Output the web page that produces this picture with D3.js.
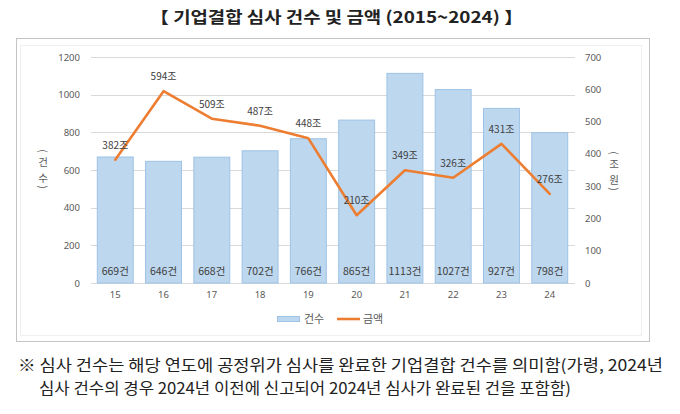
<!DOCTYPE html>
<html><head><meta charset="utf-8">
<script src="https://cdn.jsdelivr.net/npm/d3@7"></script>
<style>
html,body{margin:0;padding:0;background:#fff;}
svg{display:block;font-family:"Noto Sans CJK KR","Noto Sans",sans-serif;}
</style></head>
<body>
<svg id="c" width="680" height="414"></svg>
<script>
const years = ["15","16","17","18","19","20","21","22","23","24"];
const counts = [669,646,668,702,766,865,1113,1027,927,798];
const amounts = [382,594,509,487,448,210,349,326,431,276];
const leftTicks = [0,200,400,600,800,1000,1200];
const rightTicks = [0,100,200,300,400,500,600,700];
const title = "【 기업결합 심사 건수 및 금액 (2015~2024) 】";
const leftTitle = ["(","건","수",")"];
const rightTitle = ["(","조","원",")"];
const note1 = "※ 심사 건수는 해당 연도에 공정위가 심사를 완료한 기업결합 건수를 의미함(가령, 2024년";
const note2 = "심사 건수의 경우 2024년 이전에 신고되어 2024년 심사가 완료된 건을 포함함)";

const svg = d3.select("#c");
const m = {l:91, r:574, t:57, b:283};

// title
svg.append("text").attr("x",336.5).attr("y",23).attr("text-anchor","middle")
  .attr("font-size",16).attr("font-weight","bold").attr("fill","#222")
  .attr("textLength",373).attr("lengthAdjust","spacingAndGlyphs").text(title);

// dotted frame
svg.append("rect").attr("x",16.5).attr("y",38.5).attr("width",633).attr("height",303)
  .attr("fill","none").attr("stroke","#888").attr("stroke-width",1).attr("stroke-dasharray","1,1");
// faint inner chart border
svg.append("rect").attr("x",20.5).attr("y",45.5).attr("width",621).attr("height",290)
  .attr("fill","none").attr("stroke","#efefef").attr("stroke-width",1);

const x = d3.scaleBand().domain(years).range([m.l,m.r]).paddingInner(0.235).paddingOuter(0.12);
const yL = d3.scaleLinear().domain([0,1200]).range([m.b,m.t]);
const yR = d3.scaleLinear().domain([0,700]).range([m.b,m.t]);

// grid
svg.append("g").selectAll("line").data(leftTicks).join("line")
  .attr("x1",m.l).attr("x2",m.r+1).attr("y1",d=>Math.round(yL(d))+0.5).attr("y2",d=>Math.round(yL(d))+0.5)
  .attr("stroke","#d9d9d9").attr("stroke-width",1);

// left axis
const axL = svg.append("g").attr("transform",`translate(${m.l-11},0)`)
  .call(d3.axisLeft(yL).tickValues(leftTicks).tickFormat(d3.format("d")).tickSize(0).tickPadding(0));
axL.select(".domain").remove();
axL.selectAll("text").attr("font-size",9.5).attr("fill","#595959").attr("font-family","'Noto Sans',sans-serif");

// right axis
const axR = svg.append("g").attr("transform",`translate(${m.r+11},0)`)
  .call(d3.axisRight(yR).tickValues(rightTicks).tickFormat(d3.format("d")).tickSize(0).tickPadding(0));
axR.select(".domain").remove();
axR.selectAll("text").attr("font-size",9.5).attr("fill","#595959").attr("font-family","'Noto Sans',sans-serif");

// x axis
const axX = svg.append("g").attr("transform",`translate(0,${m.b+8})`)
  .call(d3.axisBottom(x).tickSize(0).tickPadding(0));
axX.select(".domain").remove();
axX.selectAll("text").attr("font-size",9.5).attr("fill","#595959").attr("dy","0.75em").attr("font-family","'Noto Sans',sans-serif");

// bars
svg.append("g").selectAll("rect").data(counts).join("rect")
  .attr("x",(d,i)=>x(years[i])+0.5).attr("width",x.bandwidth()-1)
  .attr("y",d=>yL(d)).attr("height",d=>m.b-yL(d))
  .attr("fill","#bdd7ee").attr("stroke","#9dc3e6").attr("stroke-width",1);

// count labels
svg.append("g").selectAll("text").data(counts).join("text")
  .attr("x",(d,i)=>x(years[i])+x.bandwidth()/2).attr("y",275)
  .attr("text-anchor","middle").attr("font-size",10.5).attr("fill","#404040")
  .text(d=>d+"건");

// line
const line = d3.line().x((d,i)=>x(years[i])+x.bandwidth()/2).y(d=>yR(d));
svg.append("path").datum(amounts).attr("d",line).attr("fill","none")
  .attr("stroke","#ed7d31").attr("stroke-width",2.6).attr("stroke-linejoin","round").attr("stroke-linecap","round");

// amount labels
svg.append("g").selectAll("text").data(amounts).join("text")
  .attr("x",(d,i)=>x(years[i])+x.bandwidth()/2).attr("y",d=>yR(d)-11)
  .attr("text-anchor","middle").attr("font-size",10).attr("fill","#404040")
  .text(d=>d+"조");

// stacked vertical axis titles
function vTitle(cx, chars, ys){
  chars.forEach((c,i)=>{
    const t = svg.append("text").attr("text-anchor","middle").attr("font-size",10.5).attr("fill","#595959")
      .attr("dominant-baseline","central").text(c);
    if(c==="("||c===")") t.attr("transform",`translate(${cx},${ys[i]}) rotate(90)`);
    else t.attr("x",cx).attr("y",ys[i]);
  });
}
vTitle(43, leftTitle, [151,161,177,187]);
vTitle(614, rightTitle, [153,163,179,189]);

// legend
svg.append("rect").attr("x",277.5).attr("y",316.5).attr("width",22).attr("height",5)
  .attr("fill","#bdd7ee").attr("stroke","#9dc3e6");
svg.append("text").attr("x",304).attr("y",323).attr("font-size",11).attr("fill","#595959").text("건수");
svg.append("line").attr("x1",337).attr("x2",360).attr("y1",319).attr("y2",319)
  .attr("stroke","#ed7d31").attr("stroke-width",2.6);
svg.append("text").attr("x",363).attr("y",323).attr("font-size",11).attr("fill","#595959").text("금액");

// footnotes
svg.append("text").attr("x",18).attr("y",371).attr("font-size",16).attr("fill","#222")
  .attr("textLength",645).attr("lengthAdjust","spacingAndGlyphs").text(note1);
svg.append("text").attr("x",39).attr("y",394).attr("font-size",16).attr("fill","#222")
  .attr("textLength",532).attr("lengthAdjust","spacingAndGlyphs").text(note2);
</script>
</body></html>
